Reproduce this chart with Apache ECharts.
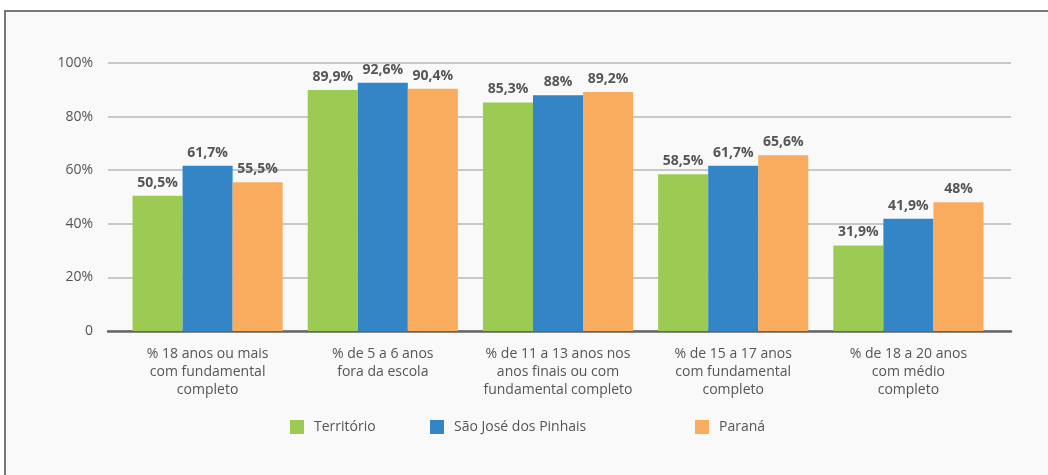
<!DOCTYPE html>
<html>
<head>
<meta charset="utf-8">
<script src="https://cdn.jsdelivr.net/npm/echarts@6/dist/echarts.min.js"></script>
<style>
  html, body { margin: 0; padding: 0; background: #fff; }
  #chart { width: 1048px; height: 475px; }
</style>
</head>
<body>
<div id="chart"></div>
<script>
  // data
  const categories = [
    '% 18 anos ou mais\ncom fundamental\ncompleto',
    '% de 5 a 6 anos\nfora da escola',
    '% de 11 a 13 anos nos\nanos finais ou com\nfundamental completo',
    '% de 15 a 17 anos\ncom fundamental\ncompleto',
    '% de 18 a 20 anos\ncom médio\ncompleto'
  ];
  const territorio = [50.5, 89.9, 85.3, 58.5, 31.9];
  const saoJose = [61.7, 92.6, 88, 61.7, 41.9];
  const parana = [55.5, 90.4, 89.2, 65.6, 48];

  const font = 'Open Sans';
  const txt = '#555';

  const chart = echarts.init(document.getElementById('chart'));

  const fmt = (p) => String(p.value).replace('.', ',') + '%';

  const mkSeries = (name, data, color) => ({
    name: name,
    type: 'bar',
    xAxisIndex: 1,
    yAxisIndex: 1,
    data: data,
    barGap: '0%',
    barCategoryGap: '14.3%',
    itemStyle: { color: color },
    label: {
      show: true,
      position: 'top',
      distance: 6,
      formatter: fmt,
      color: txt,
      fontFamily: font,
      fontWeight: 'bold',
      fontSize: 14
    }
  });

  const legendBase = {
    top: 415,
    itemWidth: 14,
    itemHeight: 14,
    icon: 'rect',
    textStyle: { color: txt, fontFamily: font, fontSize: 14, padding: [0, 0, 0, 5] }
  };

  chart.setOption({
    backgroundColor: '#fff',
    animation: false,
    graphic: [{
      type: 'rect',
      z: -10,
      shape: { x: 5, y: 11, width: 1100, height: 500 },
      style: { fill: '#f9f9f9', stroke: '#777', lineWidth: 2 }
    }],
    grid: [
      { left: 108, right: 37, top: 63, bottom: 144 },
      { left: 120, right: 52, top: 63, bottom: 144 }
    ],
    legend: [
      Object.assign({ left: 285, data: ['Território'] }, legendBase),
      Object.assign({ left: 425, data: ['São José dos Pinhais'] }, legendBase),
      Object.assign({ left: 690, data: ['Paraná'] }, legendBase)
    ],
    xAxis: [
      {
        type: 'value',
        gridIndex: 0,
        min: 0,
        max: 1,
        axisLine: { show: true, onZero: false, lineStyle: { color: '#666', width: 2.5 } },
        axisTick: { show: false },
        axisLabel: { show: false },
        splitLine: { show: false }
      },
      {
        type: 'category',
        gridIndex: 1,
        data: categories,
        axisLine: { show: false },
        axisTick: { show: false },
        axisLabel: {
          color: txt,
          fontFamily: font,
          fontSize: 14,
          lineHeight: 18,
          margin: 14,
          interval: 0
        }
      }
    ],
    yAxis: [
      {
        type: 'value',
        gridIndex: 0,
        min: 0,
        max: 100,
        interval: 20,
        axisLine: { show: false },
        axisTick: { show: false },
        splitLine: { lineStyle: { color: '#c8c8c8', width: 2 } },
        axisLabel: {
          color: txt,
          fontFamily: font,
          fontSize: 14,
          margin: 15,
          formatter: (v) => v === 0 ? '0' : v + '%'
        }
      },
      {
        type: 'value',
        gridIndex: 1,
        min: 0,
        max: 100,
        show: false
      }
    ],
    series: [
      mkSeries('Território', territorio, '#9bcb52'),
      mkSeries('São José dos Pinhais', saoJose, '#3385c6'),
      mkSeries('Paraná', parana, '#f9ac5e')
    ]
  });
</script>
</body>
</html>
